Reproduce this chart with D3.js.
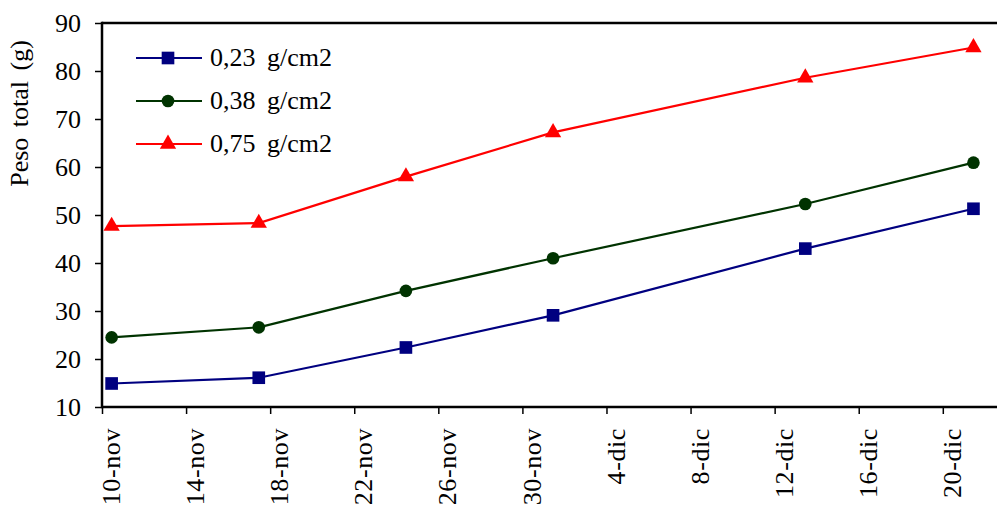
<!DOCTYPE html>
<html>
<head>
<meta charset="utf-8">
<script src="https://cdn.jsdelivr.net/npm/d3@7"></script>
<style>
  html, body { margin: 0; padding: 0; background: #fff; }
  svg { display: block; }
  svg text { font-family: "Liberation Serif", "Times New Roman", Times, serif; }
</style>
</head>
<body>
<svg id="chart" width="997" height="512"></svg>
<script>
// ---- data ----
const dates = ["2004-11-10", "2004-11-17", "2004-11-24", "2004-12-01", "2004-12-13", "2004-12-21"];
const series023 = [14.9, 16.1, 22.4, 29.1, 43.0, 51.3];
const series038 = [24.5, 26.6, 34.2, 41.0, 52.3, 60.9];
const series075 = [47.7, 48.3, 58.0, 67.2, 78.6, 84.9];
const seriesNames = ["0,23 g/cm2", "0,38 g/cm2", "0,75 g/cm2"];
const tickDates = ["2004-11-10", "2004-11-14", "2004-11-18", "2004-11-22", "2004-11-26", "2004-11-30",
                   "2004-12-04", "2004-12-08", "2004-12-12", "2004-12-16", "2004-12-20"];
const tickLabels = ["10-nov", "14-nov", "18-nov", "22-nov", "26-nov", "30-nov",
                    "4-dic", "8-dic", "12-dic", "16-dic", "20-dic"];
const yTicks = [10, 20, 30, 40, 50, 60, 70, 80, 90];
const yLabel = "Peso total (g)";

(function () {
// ---- layout ----
const svg = d3.select("#chart");
const W = 997;
const FONT = "Liberation Serif, Times New Roman, serif";
const plotLeft = 102, plotTop = 23, plotBottom = 407;
const pxPerDay = 21.02;
const dayOffset = 0.44; // points/labels sit inside the day
const parse = d3.utcParse("%Y-%m-%d");
const d0 = parse("2004-11-10"), d1 = parse("2004-12-24");
const x = d3.scaleUtc().domain([d0, d1]).range([plotLeft, plotLeft + 44 * pxPerDay]);
const y = d3.scaleLinear().domain([10, 90]).range([plotBottom, plotTop]);
const xc = s => x(d3.utcHour.offset(parse(s), Math.round(dayOffset * 24)));

const fontSize = 26;

// y axis
const yAxis = d3.axisLeft(y).tickValues(yTicks).tickSize(7).tickPadding(14).tickFormat(d3.format("d"));
const gy = svg.append("g").attr("transform", `translate(${plotLeft},0)`).call(yAxis)
  .attr("font-family", FONT).attr("font-size", fontSize);
gy.select(".domain").remove();
gy.selectAll(".tick line").attr("stroke", "#000").attr("stroke-width", 1.5);
gy.selectAll(".tick text").attr("fill", "#000").attr("font-family", FONT).attr("font-size", fontSize);

// x axis
const xAxis = d3.axisBottom(x).tickValues(tickDates.map(parse)).tickSize(7).tickFormat(() => "");
const gx = svg.append("g").attr("transform", `translate(0,${plotBottom})`).call(xAxis);
gx.select(".domain").remove();
gx.selectAll(".tick line").attr("stroke", "#000").attr("stroke-width", 1.5);
svg.append("g").selectAll("text").data(tickDates).join("text")
  .attr("transform", d => `translate(${xc(d)},${plotBottom + 21}) rotate(-90)`)
  .attr("text-anchor", "end")
  .attr("dominant-baseline", "central")
  .attr("font-family", FONT)
  .attr("font-size", fontSize)
  .attr("letter-spacing", 0.6)
  .attr("fill", "#000")
  .text((d, i) => tickLabels[i]);

// frame lines
svg.append("line").attr("x1", plotLeft).attr("x2", W).attr("y1", plotTop).attr("y2", plotTop)
  .attr("stroke", "#000").attr("stroke-width", 2.5);
svg.append("line").attr("x1", plotLeft).attr("x2", W).attr("y1", plotBottom).attr("y2", plotBottom)
  .attr("stroke", "#000").attr("stroke-width", 2.5);
svg.append("line").attr("x1", plotLeft).attr("x2", plotLeft).attr("y1", plotTop - 1.25).attr("y2", plotBottom + 1.25)
  .attr("stroke", "#000").attr("stroke-width", 2.5);

// y label
svg.append("text")
  .attr("transform", `translate(28,${(39 + 188) / 2}) rotate(-90)`)
  .attr("text-anchor", "middle")
  .attr("font-family", FONT)
  .attr("font-size", fontSize)
  .attr("word-spacing", 4)
  .attr("fill", "#000")
  .text(yLabel);

// series
const allSeries = [
  { name: seriesNames[0], values: series023, color: "#000080", shape: "square" },
  { name: seriesNames[1], values: series038, color: "#003300", shape: "circle" },
  { name: seriesNames[2], values: series075, color: "#FF0000", shape: "triangle" }
];
const symbolFor = { square: d3.symbolSquare, circle: d3.symbolCircle, triangle: d3.symbolTriangle };
const sizeFor = { square: 160, circle: 125, triangle: 115 };

const line = d3.line().x(d => xc(d.date)).y(d => y(d.value));
allSeries.forEach(s => {
  const pts = dates.map((d, i) => ({ date: d, value: s.values[i] }));
  svg.append("path").datum(pts).attr("d", line)
    .attr("fill", "none").attr("stroke", s.color).attr("stroke-width", 2.2);
  svg.append("g").selectAll("path").data(pts).join("path")
    .attr("transform", d => `translate(${xc(d.date)},${y(d.value)})`)
    .attr("d", d3.symbol().type(symbolFor[s.shape]).size(sizeFor[s.shape]))
    .attr("fill", s.color);
});

// legend
const legend = svg.append("g");
allSeries.forEach((s, i) => {
  const cy = 58 + i * 43;
  legend.append("line").attr("x1", 136).attr("x2", 202).attr("y1", cy).attr("y2", cy)
    .attr("stroke", s.color).attr("stroke-width", 2.2);
  legend.append("path").attr("transform", `translate(168,${cy})`)
    .attr("d", d3.symbol().type(symbolFor[s.shape]).size(sizeFor[s.shape]))
    .attr("fill", s.color);
  legend.append("text").attr("x", 210).attr("y", cy + 8)
    .attr("font-family", FONT)
    .attr("font-size", fontSize).attr("word-spacing", 5).attr("fill", "#000")
    .text(s.name);
});
})();
</script>
</body>
</html>
